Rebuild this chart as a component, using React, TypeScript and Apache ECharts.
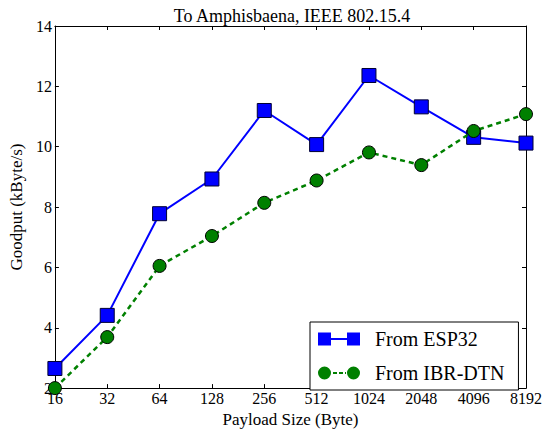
import React, { useEffect, useRef } from "react";
import * as echarts from "echarts";

const categories = ["16", "32", "64", "128", "256", "512", "1024", "2048", "4096", "8192"];
const esp32 = [2.65, 4.41, 7.78, 8.93, 11.2, 10.07, 12.36, 11.32, 10.31, 10.12];
const ibrDtn = [2.0, 3.69, 6.05, 7.04, 8.14, 8.88, 9.81, 9.39, 10.52, 11.08];
const yTicks = [2, 4, 6, 8, 10, 12, 14];
const seriesNames = ["From ESP32", "From IBR-DTN"];

const FONT = "'Liberation Serif', 'Times New Roman', serif";

export default function App() {
  const ref = useRef<HTMLDivElement>(null);
  useEffect(() => {
    if (!ref.current) return;
    const chart = echarts.init(ref.current, undefined, { renderer: "svg" });
    const squareIcon = "path://M0,0h13v13h-13z M13,5.5h16v2h-16z M29,0h13v13h-13z";
    const circleIcon =
      "path://M0,6.5a6.5,6.5 0 1,0 13,0a6.5,6.5 0 1,0 -13,0z M15,5.5h4v2h-4z M21,5.5h4v2h-4z M27,5.5h1v2h-1z M29,6.5a6.5,6.5 0 1,0 13,0a6.5,6.5 0 1,0 -13,0z";
    chart.setOption({
      animation: false,
      backgroundColor: "#ffffff",
      textStyle: { fontFamily: FONT },
      title: {
        text: "To Amphisbaena, IEEE 802.15.4",
        left: 287,
        textAlign: "center",
        top: 2,
        textStyle: { fontFamily: FONT, fontSize: 18, fontWeight: "normal", color: "#000" },
      },
      grid: { left: 48, right: 20, top: 26, bottom: 38 },
      legend: {
        left: 310,
        top: 322,
        orient: "vertical",
        backgroundColor: "#fff",
        borderColor: "#000",
        borderWidth: 1,
        padding: [7, 14, 7, 8],
        itemGap: 14,
        itemWidth: 42,
        itemHeight: 13,
        textStyle: { fontFamily: FONT, fontSize: 20, color: "#000", padding: [0, 0, 0, 10] },
        data: [
          { name: seriesNames[0], icon: squareIcon, itemStyle: { color: "#0000ff", borderColor: "#0000ff", borderWidth: 0 } },
          { name: seriesNames[1], icon: circleIcon, itemStyle: { color: "#008000", borderColor: "#008000", borderWidth: 0 } },
        ],
      },
      xAxis: [
        {
          type: "category",
          data: categories,
          boundaryGap: false,
          name: "Payload Size (Byte)",
          nameLocation: "middle",
          nameGap: 20,
          nameTextStyle: { fontFamily: FONT, fontSize: 17, color: "#000" },
          axisLine: { lineStyle: { color: "#000", width: 1 } },
          axisTick: { inside: true, length: 4, lineStyle: { color: "#000" } },
          axisLabel: { fontFamily: FONT, fontSize: 16, color: "#000", margin: 2 },
          splitLine: { show: false },
        },
        {
          type: "category",
          data: categories,
          boundaryGap: false,
          position: "top",
          axisLine: { lineStyle: { color: "#000", width: 1 } },
          axisTick: { inside: true, length: 4, lineStyle: { color: "#000" } },
          axisLabel: { show: false },
          splitLine: { show: false },
        },
      ],
      yAxis: [
        {
          type: "value",
          min: yTicks[0],
          max: yTicks[yTicks.length - 1],
          interval: 2,
          name: "Goodput (kByte/s)",
          nameLocation: "middle",
          nameGap: 22,
          nameTextStyle: { fontFamily: FONT, fontSize: 17, color: "#000" },
          axisLine: { show: true, lineStyle: { color: "#000", width: 1 } },
          axisTick: { show: true, inside: true, length: 4, lineStyle: { color: "#000" } },
          axisLabel: { fontFamily: FONT, fontSize: 16, color: "#000", margin: 3 },
          splitLine: { show: false },
        },
        {
          type: "value",
          min: yTicks[0],
          max: yTicks[yTicks.length - 1],
          interval: 2,
          position: "right",
          axisLine: { show: true, lineStyle: { color: "#000", width: 1 } },
          axisTick: { show: true, inside: true, length: 4, lineStyle: { color: "#000" } },
          axisLabel: { show: false },
          splitLine: { show: false },
        },
      ],
      series: [
        {
          name: seriesNames[0],
          type: "line",
          data: esp32,
          symbol: "rect",
          symbolSize: 14,
          clip: false,
          z: 3,
          lineStyle: { color: "#0000ff", width: 2 },
          itemStyle: { color: "#0000ff", borderColor: "#000033", borderWidth: 1 },
        },
        {
          name: seriesNames[1],
          type: "line",
          data: ibrDtn,
          symbol: "circle",
          symbolSize: 13,
          clip: false,
          z: 4,
          lineStyle: { color: "#008000", width: 2.5, type: [5, 4] },
          itemStyle: { color: "#008000", borderColor: "#000", borderWidth: 1 },
        },
      ],
    });
    return () => chart.dispose();
  }, []);
  return <div ref={ref} style={{ position: "absolute", left: 0, top: 0, width: 546, height: 433 }} />;
}
